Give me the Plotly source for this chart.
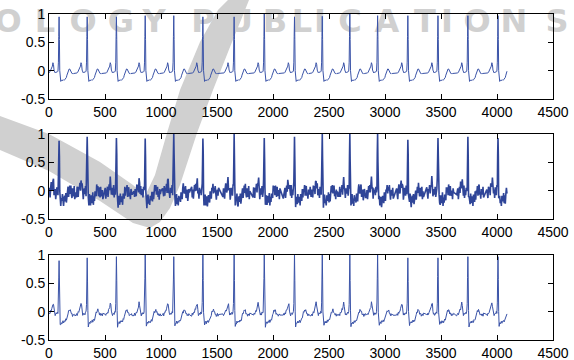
import plotly.graph_objects as go

# ---------------- data ----------------
# R-peak sample positions (same beats in all three panels)
r_peaks = [90, 341, 602, 859, 1114, 1374, 1653, 1922, 2192, 2440, 2686, 2934, 3204, 3473, 3740, 4009]

# R-peak heights per panel
peaks_top = [0.95, 0.95, 0.95, 0.97, 0.97, 0.95, 0.95, 1.03, 0.95, 0.96, 1.0, 0.97, 0.97, 0.97, 0.97, 0.97]
peaks_mid = [0.88, 0.95, 0.93, 0.92, 1.0, 0.92, 1.0, 0.93, 0.95, 1.0, 1.0, 1.0, 0.90, 0.93, 0.95, 0.93]
peaks_bot = [0.90, 0.95, 0.97, 1.02, 0.97, 1.02, 1.02, 1.02, 1.02, 1.02, 1.02, 1.02, 0.95, 0.95, 0.97, 0.97]

# beat shape: sample offsets relative to the R peak and the signal level there
beat_offsets = [-100, -95, -90, -85, -80, -75, -70, -65, -60, -55, -50, -45, -40, -35, -30, -25,
                -20, -15, -10, -6, -3, 0, 3, 6, 10, 15, 20, 25, 30, 35, 40, 45, 50, 55, 60,
                65, 70, 75, 80, 85, 90, 95, 100, 105, 110, 115, 120, 125, 130, 135, 140]
beat_clean = [-0.05, -0.05, -0.04, -0.03, -0.01, 0.01, 0.03, 0.05, 0.08, 0.14, 0.11, 0.01, -0.04, -0.04,
              -0.03, -0.03, -0.02, -0.02, -0.01, 0.15, 0.60, 0.0, 0.55, 0.0, -0.18, -0.19, -0.17, -0.17,
              -0.18, -0.17, -0.16, -0.17, -0.16, -0.15, -0.14, -0.12, -0.08, -0.04, -0.01, 0.01, 0.03,
              0.03, 0.01, -0.02, -0.04, -0.05, -0.05, -0.06, -0.05, -0.05, -0.05]
beat_bottom = [-0.06, -0.05, -0.05, -0.03, -0.02, 0.0, 0.03, 0.05, 0.09, 0.15, 0.12, 0.02, -0.05, -0.05,
               -0.04, -0.04, -0.03, -0.02, -0.01, 0.15, 0.60, 0.0, 0.55, 0.0, -0.25, -0.22, -0.20, -0.19,
               -0.19, -0.18, -0.18, -0.17, -0.17, -0.16, -0.15, -0.13, -0.09, -0.05, -0.02, 0.0, 0.02,
               0.03, 0.01, -0.02, -0.04, -0.05, -0.06, -0.06, -0.05, -0.06, -0.05]

# measurement noise read as typical wiggles
noise_mid = [0.04, -0.06, 0.09, -0.02, -0.11, 0.05, 0.12, -0.04, -0.08, 0.03, 0.10, -0.09, 0.01, 0.07,
             -0.12, -0.03, 0.08, 0.02, -0.07, 0.11, -0.05, -0.10, 0.06, 0.00, 0.09, -0.08, 0.04, -0.01,
             0.12, -0.06, -0.11, 0.03, 0.07, -0.04, 0.10, -0.09, -0.02, 0.05, 0.08, -0.12, 0.02, 0.06,
             -0.07, 0.11, -0.03, -0.08, 0.09, 0.01, -0.05, 0.13, -0.10, 0.04, -0.06, 0.07, 0.00, -0.09,
             0.10, -0.02, 0.05, -0.11, 0.08, 0.03, -0.07, 0.12, -0.04, -0.01, 0.06, -0.10, 0.09, 0.02,
             -0.06, 0.11, -0.08, 0.04, -0.03, 0.07, -0.12, 0.05, 0.10, -0.05, 0.01, -0.09, 0.08, 0.03,
             -0.02, 0.12, -0.07, 0.06, -0.11, 0.02, 0.09, -0.04, 0.07, -0.08, 0.00, 0.11, -0.06, 0.04,
             -0.10, 0.08, -0.01]
noise_bot = [0.01, -0.02, 0.02, 0.00, -0.01, 0.025, -0.015, 0.005, 0.02, -0.025, 0.01, -0.005, 0.015,
             -0.02, 0.0, 0.02, -0.01, 0.01, -0.02, 0.025, -0.005, 0.0, 0.015, -0.015, 0.02, -0.01, 0.005,
             -0.025, 0.01, 0.02, -0.02, 0.0, 0.01, -0.01, 0.025, -0.02, 0.005]

n_samples = 4096
x_ticks = [0, 500, 1000, 1500, 2000, 2500, 3000, 3500, 4000, 4500]
y_ticks = [-0.5, 0, 0.5, 1]
y_tick_text = ["-0.5", "0", "0.5", "1"]

watermark_letters = ["O", "L", "O", "G", "Y", "P", "U", "B", "L", "I", "C", "A", "T", "I", "O", "N", "S"]
watermark_px = [8, 45, 83, 121, 154, 203, 240, 275, 302, 320, 350, 387, 425, 447, 477, 514, 557]


def build(heights, shape, noise, step):
    xs, ys = [], []
    n = len(noise) if noise else 1
    for k, (p, h) in enumerate(zip(r_peaks, heights)):
        for j, (o, v) in enumerate(zip(beat_offsets, shape)):
            x = p + o
            if x < 0 or x > n_samples - 3:
                continue
            if o == 0:
                y = h
            else:
                y = v + (noise[(k * step + j) % n] if noise else 0.0)
            xs.append(x)
            ys.append(y)
    return xs, ys


sig_top = build(peaks_top, beat_clean, None, 0)
sig_mid = build(peaks_mid, beat_clean, noise_mid, 17)
sig_bot = build(peaks_bot, beat_bottom, noise_bot, 11)

# ---------------- figure ----------------
W, H = 574, 360
L_PX, R_PX = 49, 553


def dx(x):
    return x / W


def dy(y):
    return (H - y) / H


GRAY = "#d0d0d0"
LINE = "#3a53a8"
fig = go.Figure()

# watermark text on a full-page background subplot (x / y) drawn under the data panels
fig.add_trace(go.Scatter(x=watermark_px, y=[24] * len(watermark_px), mode="text",
                         text=watermark_letters, cliponaxis=False,
                         textfont=dict(family="DejaVu Sans", size=32, color=GRAY, weight="bold"),
                         xaxis="x", yaxis="y", showlegend=False, hoverinfo="skip"))

for i, (sx, sy) in enumerate([sig_top, sig_mid, sig_bot]):
    sfx = str(i + 2)
    fig.add_trace(go.Scatter(x=sx, y=sy, mode="lines",
                             line=dict(color=LINE if i != 1 else "#2f4598",
                                       width=1 if i != 1 else 1.6),
                             xaxis="x" + sfx, yaxis="y" + sfx, showlegend=False,
                             hoverinfo="skip"))

tickfont = dict(family="Liberation Sans, Arial, sans-serif", size=14, color="black")
panels = [(14, 99), (134, 219), (255, 340)]
layout = dict(width=W, height=H, margin=dict(l=0, r=0, t=0, b=0, autoexpand=False),
              paper_bgcolor="white", plot_bgcolor="rgba(0,0,0,0)", showlegend=False)
layout["xaxis"] = dict(domain=[0, 1], range=[0, W], visible=False, fixedrange=True, automargin=False)
layout["yaxis"] = dict(domain=[0, 1], range=[H, 0], visible=False, fixedrange=True, automargin=False)
for i, (t, b) in enumerate(panels):
    sfx = str(i + 2)
    layout["xaxis" + sfx] = dict(domain=[dx(L_PX), dx(R_PX)], range=[0, 4500], tickvals=x_ticks,
                                 ticks="inside", ticklen=5, tickcolor="black",
                                 showline=True, mirror="ticks", linecolor="black", linewidth=1,
                                 showgrid=False, zeroline=False, tickfont=tickfont,
                                 anchor="y" + sfx, automargin=False)
    layout["yaxis" + sfx] = dict(domain=[dy(b), dy(t)], range=[-0.5, 1], tickvals=y_ticks,
                                 ticktext=y_tick_text, ticks="inside", ticklen=5, tickcolor="black",
                                 showline=True, mirror="ticks", linecolor="black", linewidth=1,
                                 showgrid=False, zeroline=False, tickfont=tickfont,
                                 anchor="x" + sfx, automargin=False)
fig.update_layout(**layout)

# watermark: swoosh
swoosh = [(0, 116), (49, 134), (100, 162), (133, 185), (145, 196), (155, 175), (167, 133), (180, 90),
          (200, 42), (218, 10), (228, 0), (249, 0), (241, 20), (232, 42), (213, 90), (197, 133),
          (180, 185), (170, 208), (160, 222), (150, 228), (133, 223), (100, 201), (49, 171), (0, 150)]
path = "M " + " L ".join(f"{dx(a):.4f},{dy(b):.4f}" for a, b in swoosh) + " Z"
fig.add_shape(type="path", path=path, xref="paper", yref="paper", fillcolor=GRAY,
              line=dict(width=0), layer="below")

fig.write_html("out.html")
